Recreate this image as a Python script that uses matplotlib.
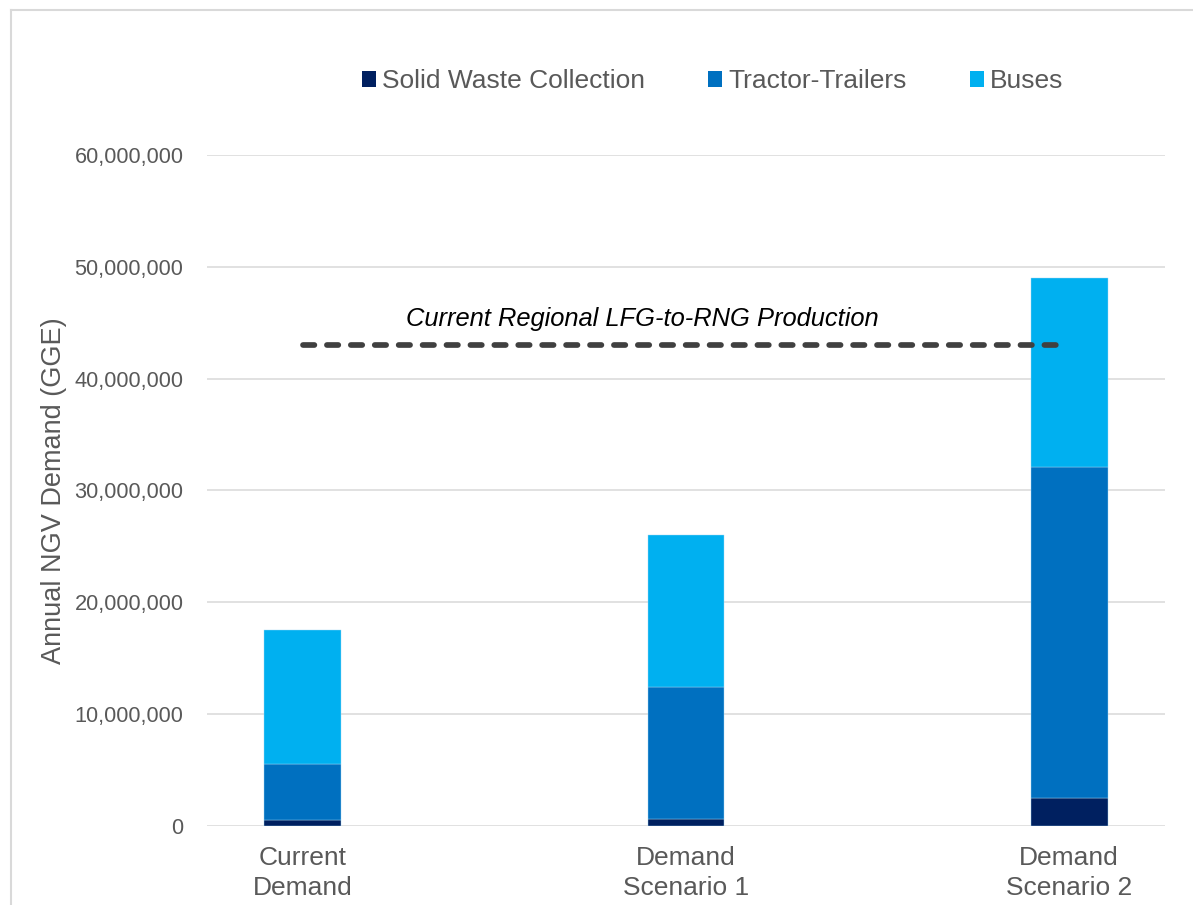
import matplotlib
matplotlib.use("Agg")
import matplotlib.pyplot as plt
from matplotlib.patches import Rectangle
from matplotlib.lines import Line2D
import numpy as np

plt.rcParams['font.family'] = ['Liberation Sans', 'DejaVu Sans']

categories = ["Current\nDemand", "Demand\nScenario 1", "Demand\nScenario 2"]
series_names = ["Solid Waste Collection", "Tractor-Trailers", "Buses"]
solid_waste = [500000, 600000, 2500000]
tractor_trailers = [5050000, 11800000, 29600000]
buses = [11950000, 13600000, 16900000]
production_value = 43000000
production_x = [0, 1.975]
production_label = "Current Regional LFG-to-RNG Production"
yticks = [0, 10000000, 20000000, 30000000, 40000000, 50000000, 60000000]

colors = ["#002060", "#0070C0", "#00B0F0"]
grey_text = "#595959"

W, H = 1193, 905
fig = plt.figure(figsize=(W / 100, H / 100), dpi=100)
ax = fig.add_axes([207 / W, (H - 825.7) / H, 958 / W, 670.7 / H])

x = np.arange(len(categories))
bw = 0.2
bottom = np.zeros(len(categories))
handles = []
for vals, name, c in zip([solid_waste, tractor_trailers, buses], series_names, colors):
    ax.bar(x, vals, bw, bottom=bottom, color=c, edgecolor="#9fd8f5", linewidth=0.3, zorder=3)
    bottom = bottom + np.array(vals)
    handles.append(Rectangle((0, 0), 1, 1, facecolor=c, edgecolor="none"))

ax.plot(production_x, [production_value] * 2, color="#404040", linewidth=4.1,
        linestyle=(0, (2.0, 2.2)), dash_capstyle="round", zorder=4)
ax.text(0.887, 45300000, production_label, style="italic", fontsize=18.4,
        color="black", ha="center", va="center", zorder=5)

ax.set_xlim(-0.25, 2.25)
ax.set_ylim(0, 60000000)
ax.set_yticks(yticks)
ax.set_yticklabels([f"{v:,.0f}" for v in yticks])
ax.set_xticks(x)
ax.set_xticklabels(categories, linespacing=1.3)
ax.tick_params(axis="y", length=0, pad=17, labelsize=15.7, labelcolor=grey_text)
ax.tick_params(axis="x", length=0, pad=14.5, labelsize=19, labelcolor=grey_text)
ax.grid(axis="y", color="#d9d9d9", linewidth=1.1, zorder=0)
ax.set_axisbelow(True)
for s in ax.spines.values():
    s.set_visible(False)

ax.set_ylabel("Annual NGV Demand (GGE)", fontsize=19.5, color=grey_text)
ax.yaxis.set_label_coords(-0.146, 0.5)

leg = fig.legend(handles, series_names, loc="center", ncol=3,
                 bbox_to_anchor=(712.5 / W, 1 - 81.5 / H), frameon=False,
                 fontsize=19, handlelength=0.53, handleheight=0.53,
                 handletextpad=0.23, columnspacing=2.4, borderpad=0)
for t in leg.get_texts():
    t.set_color(grey_text)

# figure border (left and top edges visible)
fig.add_artist(Line2D([11 / W, 11 / W], [0, 1 - 10 / H], transform=fig.transFigure,
                      color="#d9d9d9", linewidth=1.5))
fig.add_artist(Line2D([11 / W, 1], [1 - 10 / H, 1 - 10 / H], transform=fig.transFigure,
                      color="#d9d9d9", linewidth=1.5))

fig.savefig("out.png", dpi=100)
